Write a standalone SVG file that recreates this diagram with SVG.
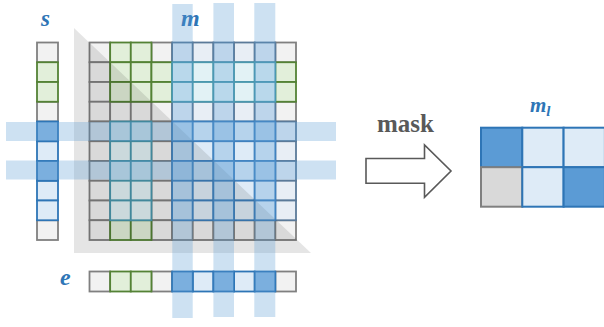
<svg xmlns="http://www.w3.org/2000/svg" width="604" height="327" viewBox="0 0 604 327">
<style>
.c{stroke-width:1.8}
.gy{fill:#f2f2f2;stroke:#808080}
.bg{fill:#e8eef5;stroke:#5b7a99}
.gn{fill:#e2efda;stroke:#548235}
.cy{fill:#e2f2f5;stroke:#4a98ad}
.lb{fill:#deebf7;stroke:#3f80bd}
.db{fill:#8ab8e2;stroke:#2e75b6}
.sv{fill:#deebf7;stroke:#2e75b6}
.lbl{font-family:"Liberation Serif",serif;font-weight:bold;font-style:italic;fill:#2e75b6}
.band{fill:#5b9bd5;fill-opacity:0.3}
</style>
<defs>
<rect id="k" width="20.65" height="19.75"/>
</defs>
<rect width="604" height="327" fill="#ffffff"/>

<g id="labels">
<text class="lbl" x="41" y="26" font-size="23">s</text>
<text class="lbl" x="181" y="26" font-size="24">m</text>
<text class="lbl" x="60" y="285" font-size="24">e</text>
<text class="lbl" x="530" y="112" font-size="21">m<tspan font-size="15" dy="4">l</tspan></text>
</g>

<g id="s-vector">
<rect class="c gy" x="37" y="42.5" width="21" height="19.75"/>
<rect class="c gy" x="37" y="101.75" width="21" height="19.75"/>
<rect class="c gy" x="37" y="220.25" width="21" height="19.75"/>
<rect class="c gn" x="37" y="62.25" width="21" height="19.75"/>
<rect class="c gn" x="37" y="82" width="21" height="19.75"/>
<rect class="c sv" x="37" y="141.25" width="21" height="19.75"/>
<rect class="c sv" x="37" y="180.75" width="21" height="19.75"/>
<rect class="c sv" x="37" y="200.5" width="21" height="19.75"/>
<rect class="c db" x="37" y="121.5" width="21" height="19.75"/>
<rect class="c db" x="37" y="161" width="21" height="19.75"/>
</g>

<g id="e-vector">
<rect class="c gy" x="89.5" y="271.5" width="20.65" height="20"/>
<rect class="c gy" x="151.45" y="271.5" width="20.65" height="20"/>
<rect class="c gy" x="275.35" y="271.5" width="20.65" height="20"/>
<rect class="c gn" x="110.15" y="271.5" width="20.65" height="20"/>
<rect class="c gn" x="130.8" y="271.5" width="20.65" height="20"/>
<rect class="c sv" x="192.75" y="271.5" width="20.65" height="20"/>
<rect class="c sv" x="234.05" y="271.5" width="20.65" height="20"/>
<rect class="c db" x="172.1" y="271.5" width="20.65" height="20"/>
<rect class="c db" x="213.4" y="271.5" width="20.65" height="20"/>
<rect class="c db" x="254.7" y="271.5" width="20.65" height="20"/>
</g>

<g id="m-matrix">
<g class="c gy">
<use href="#k" x="89.5" y="42.5"/><use href="#k" x="151.45" y="42.5"/><use href="#k" x="275.35" y="42.5"/>
<use href="#k" x="89.5" y="62.25"/><use href="#k" x="89.5" y="82"/>
<use href="#k" x="89.5" y="101.75"/><use href="#k" x="110.15" y="101.75"/><use href="#k" x="130.8" y="101.75"/><use href="#k" x="151.45" y="101.75"/><use href="#k" x="275.35" y="101.75"/>
<use href="#k" x="89.5" y="121.5"/><use href="#k" x="151.45" y="121.5"/>
<use href="#k" x="89.5" y="141.25"/><use href="#k" x="151.45" y="141.25"/>
<use href="#k" x="89.5" y="161"/><use href="#k" x="151.45" y="161"/>
<use href="#k" x="89.5" y="180.75"/><use href="#k" x="151.45" y="180.75"/>
<use href="#k" x="89.5" y="200.5"/><use href="#k" x="151.45" y="200.5"/>
<use href="#k" x="89.5" y="220.25"/><use href="#k" x="151.45" y="220.25"/><use href="#k" x="172.1" y="220.25"/><use href="#k" x="192.75" y="220.25"/><use href="#k" x="213.4" y="220.25"/><use href="#k" x="234.05" y="220.25"/><use href="#k" x="254.7" y="220.25"/><use href="#k" x="275.35" y="220.25"/>
</g>
<g class="c bg">
<use href="#k" x="172.1" y="42.5"/><use href="#k" x="192.75" y="42.5"/><use href="#k" x="213.4" y="42.5"/><use href="#k" x="234.05" y="42.5"/><use href="#k" x="254.7" y="42.5"/>
<use href="#k" x="172.1" y="101.75"/><use href="#k" x="192.75" y="101.75"/><use href="#k" x="213.4" y="101.75"/><use href="#k" x="234.05" y="101.75"/><use href="#k" x="254.7" y="101.75"/>
<use href="#k" x="275.35" y="121.5"/><use href="#k" x="275.35" y="141.25"/><use href="#k" x="275.35" y="161"/><use href="#k" x="275.35" y="180.75"/><use href="#k" x="275.35" y="200.5"/>
</g>
<g class="c gn">
<use href="#k" x="110.15" y="42.5"/><use href="#k" x="130.8" y="42.5"/>
<use href="#k" x="110.15" y="62.25"/><use href="#k" x="130.8" y="62.25"/><use href="#k" x="151.45" y="62.25"/><use href="#k" x="275.35" y="62.25"/>
<use href="#k" x="110.15" y="82"/><use href="#k" x="130.8" y="82"/><use href="#k" x="151.45" y="82"/><use href="#k" x="275.35" y="82"/>
<use href="#k" x="110.15" y="220.25"/><use href="#k" x="130.8" y="220.25"/>
</g>
<g class="c cy">
<use href="#k" x="172.1" y="62.25"/><use href="#k" x="192.75" y="62.25"/><use href="#k" x="213.4" y="62.25"/><use href="#k" x="234.05" y="62.25"/><use href="#k" x="254.7" y="62.25"/>
<use href="#k" x="172.1" y="82"/><use href="#k" x="192.75" y="82"/><use href="#k" x="213.4" y="82"/><use href="#k" x="234.05" y="82"/><use href="#k" x="254.7" y="82"/>
<use href="#k" x="110.15" y="121.5"/><use href="#k" x="130.8" y="121.5"/>
<use href="#k" x="110.15" y="141.25"/><use href="#k" x="130.8" y="141.25"/>
<use href="#k" x="110.15" y="161"/><use href="#k" x="130.8" y="161"/>
<use href="#k" x="110.15" y="180.75"/><use href="#k" x="130.8" y="180.75"/>
<use href="#k" x="110.15" y="200.5"/><use href="#k" x="130.8" y="200.5"/>
</g>
<g class="c lb">
<use href="#k" x="172.1" y="121.5"/><use href="#k" x="192.75" y="121.5"/><use href="#k" x="213.4" y="121.5"/><use href="#k" x="234.05" y="121.5"/><use href="#k" x="254.7" y="121.5"/>
<use href="#k" x="172.1" y="141.25"/><use href="#k" x="192.75" y="141.25"/><use href="#k" x="213.4" y="141.25"/><use href="#k" x="234.05" y="141.25"/><use href="#k" x="254.7" y="141.25"/>
<use href="#k" x="172.1" y="161"/><use href="#k" x="192.75" y="161"/><use href="#k" x="213.4" y="161"/><use href="#k" x="234.05" y="161"/><use href="#k" x="254.7" y="161"/>
<use href="#k" x="172.1" y="180.75"/><use href="#k" x="192.75" y="180.75"/><use href="#k" x="213.4" y="180.75"/><use href="#k" x="234.05" y="180.75"/><use href="#k" x="254.7" y="180.75"/>
<use href="#k" x="172.1" y="200.5"/><use href="#k" x="192.75" y="200.5"/><use href="#k" x="213.4" y="200.5"/><use href="#k" x="234.05" y="200.5"/><use href="#k" x="254.7" y="200.5"/>
</g>
</g>

<g id="lower-triangle">
<polygon points="74,28 74,253 311,253" fill="#000000" fill-opacity="0.1"/>
</g>

<g id="mask-bands">
<rect class="band" x="6" y="122" width="330" height="19"/>
<rect class="band" x="6" y="160.5" width="330" height="19"/>
<rect class="band" x="172.3" y="4" width="20.4" height="314"/>
<rect class="band" x="213.4" y="3" width="20.6" height="314"/>
<rect class="band" x="254.3" y="3" width="21" height="314"/>
</g>

<g id="connectors">
<text x="377" y="131.5" font-family="Liberation Serif, serif" font-weight="bold" font-size="25" fill="#595959">mask</text>
<polygon points="366,158.5 424.5,158.5 424.5,145 451,171 424.5,197.3 424.5,183.3 366,183.3" fill="#ffffff" stroke="#595959" stroke-width="1.6"/>
</g>

<g id="ml-matrix">
<rect x="481" y="127.7" width="41.3" height="39.5" fill="#5b9bd5" stroke="#2e75b6" stroke-width="2"/>
<rect x="522.3" y="127.7" width="41.3" height="39.5" fill="#deebf7" stroke="#2e75b6" stroke-width="2"/>
<rect x="563.6" y="127.7" width="41.3" height="39.5" fill="#deebf7" stroke="#2e75b6" stroke-width="2"/>
<rect x="481" y="167.2" width="41.3" height="39.5" fill="#d9d9d9" stroke="#808080" stroke-width="2"/>
<rect x="522.3" y="167.2" width="41.3" height="39.5" fill="#deebf7" stroke="#2e75b6" stroke-width="2"/>
<rect x="563.6" y="167.2" width="41.3" height="39.5" fill="#5b9bd5" stroke="#2e75b6" stroke-width="2"/>
</g>
</svg>
